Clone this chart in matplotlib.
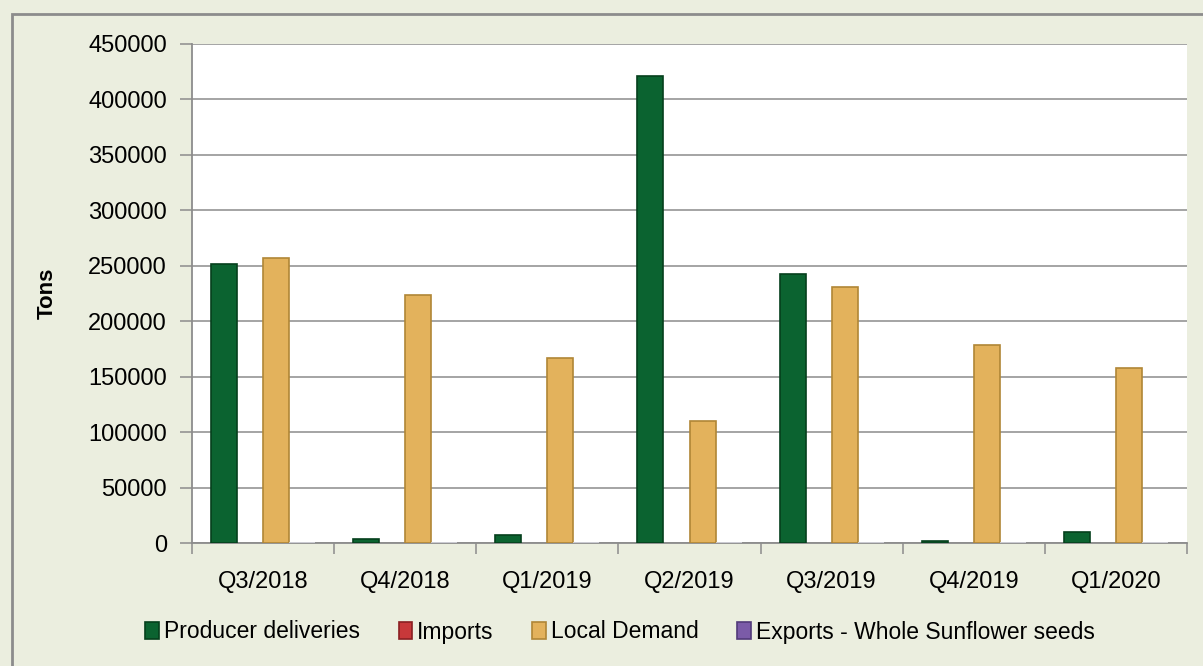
import numpy as np
import matplotlib.pyplot as plt
from matplotlib.patches import Rectangle, Patch

quarters = ["Q3/2018", "Q4/2018", "Q1/2019", "Q2/2019", "Q3/2019", "Q4/2019", "Q1/2020"]
producer = [252000, 4000, 7000, 421000, 243000, 2000, 9500]
imports = [0, 0, 0, 0, 0, 0, 0]
local_demand = [257000, 223500, 166500, 110000, 230500, 178500, 157500]
exports = [0, 0, 0, 0, 0, 0, 0]

names = ["Producer deliveries", "Imports", "Local Demand", "Exports - Whole Sunflower seeds"]
values = [producer, imports, local_demand, exports]
colors = ["#0b6330", "#c8383a", "#e3b25c", "#7b5ba8"]
edges = ["#05401c", "#8a1f22", "#b08636", "#523a7a"]

plt.rcParams['font.family'] = ['Liberation Sans', 'DejaVu Sans']

fig = plt.figure(figsize=(12.03, 6.66), dpi=100)
fig.patch.set_facecolor("#ebeedf")
fig.patches.append(Rectangle((12 / 1203, -0.01), 1.02, 1 - 14 / 666 + 0.01,
                             transform=fig.transFigure, fill=False,
                             edgecolor="#8c8c8c", linewidth=2))

ax = fig.add_axes([192 / 1203, 1 - 543 / 666, (1187 - 192) / 1203, (543 - 44) / 666])
ax.set_facecolor("white")

x = np.arange(len(quarters))
w = 0.183
offsets = [-1.5, -0.5, 0.5, 1.5]
for i, off in enumerate(offsets):
    ec = edges[i]
    if max(values[i]) == 0:
        ec = "#d8d8e0" if i == 3 else "none"
    ax.bar(x + off * w, values[i], width=w, color=colors[i], edgecolor=ec,
           linewidth=1.2, zorder=3)

ax.set_xlim(-0.5, len(quarters) - 0.5)
ax.set_ylim(0, 450000)
ax.set_yticks(np.arange(0, 450001, 50000))
ax.grid(axis="y", color="#8c8c8c", linewidth=1.1, zorder=0)
ax.set_xticks(x)
ax.set_xticklabels(quarters, fontsize=17)
ax.set_xticks(np.arange(-0.5, len(quarters)), minor=True)
ax.tick_params(axis="x", which="major", length=0, pad=20)
ax.tick_params(axis="x", which="minor", length=8, color="#8c8c8c", width=1.1)
ax.tick_params(axis="y", labelsize=17, length=9, color="#8c8c8c", width=1.1, pad=9)
for s in ["top", "right"]:
    ax.spines[s].set_visible(False)
for s in ["left", "bottom"]:
    ax.spines[s].set_color("#8c8c8c")
    ax.spines[s].set_linewidth(1.3)

ax.set_ylabel("Tons", fontsize=16, fontweight="bold", labelpad=22)

handles = [Patch(facecolor=c, edgecolor=e, linewidth=1.2, label=n)
           for n, c, e in zip(names, colors, edges)]
fig.legend(handles=handles, loc="center", bbox_to_anchor=(620 / 1203, 1 - 632 / 666),
           ncol=4, frameon=False, fontsize=16.5, handlelength=0.6, handleheight=0.8,
           handletextpad=0.2, columnspacing=1.7)

fig.savefig("out.png", dpi=100, facecolor=fig.get_facecolor())
